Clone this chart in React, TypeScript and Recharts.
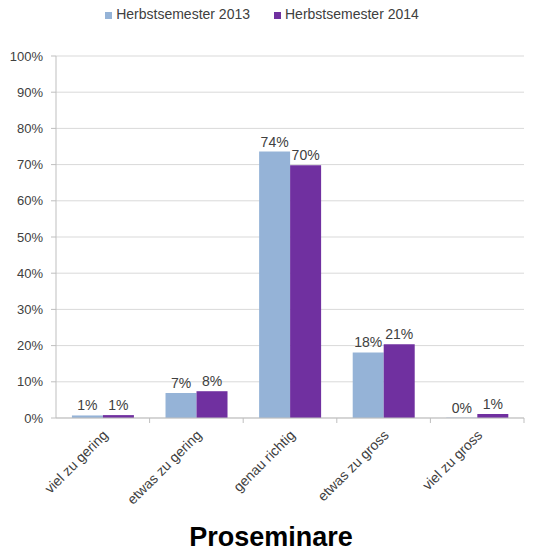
import { Bar, BarChart, CartesianGrid, LabelList, Legend, XAxis, YAxis } from "recharts"

// categories and values (percent)
const categories = ["viel zu gering", "etwas zu gering", "genau richtig", "etwas zu gross", "viel zu gross"]
const hs2013 = [0.7, 6.9, 73.6, 18.1, 0.1]
const hs2014 = [0.8, 7.4, 69.8, 20.4, 1.1]
const labels2013 = ["1%", "7%", "74%", "18%", "0%"]
const labels2014 = ["1%", "8%", "70%", "21%", "1%"]
const yTicks = [0, 10, 20, 30, 40, 50, 60, 70, 80, 90, 100]

const data = categories.map((name, i) => ({
  name,
  hs2013: hs2013[i],
  hs2014: hs2014[i],
  l2013: labels2013[i],
  l2014: labels2014[i],
}))

const W = 534
const H = 554
const X_H = 100
const M = { top: 40, right: 10, bottom: 136 - X_H, left: 0 }
const Y_W = 56
const bandW = (W - M.left - M.right - Y_W) / categories.length

const font = "'Liberation Sans', Arial, sans-serif"
const textColor = "#404040"

const XTick = (props: any) => {
  const { x, y, payload } = props
  return (
    <g>
      <line x1={x + bandW / 2} x2={x + bandW / 2} y1={y - 8} y2={y - 3} stroke="#bfbfbf" />
      <text
        x={x + 6}
        y={y + 10}
        transform={`rotate(-45, ${x + 6}, ${y + 10})`}
        textAnchor="end"
        fontSize={14}
        fontFamily={font}
        fill={textColor}
      >
        {payload.value}
      </text>
    </g>
  )
}

export default function App() {
  return (
    <div style={{ position: "absolute", left: 0, top: 0, width: W, height: H, background: "#fff" }}>
      <BarChart width={W} height={H} data={data} margin={M} barCategoryGap="17%" barGap={0}>
        <CartesianGrid vertical={false} stroke="#d9d9d9" />
        <XAxis
          dataKey="name"
          interval={0}
          stroke="#bfbfbf"
          tickLine={false}
          tick={<XTick />}
          height={X_H}
        />
        <YAxis
          width={Y_W}
          domain={[0, 100]}
          ticks={yTicks}
          interval={0}
          tickFormatter={(v) => `${v}%`}
          stroke="#bfbfbf"
          tickSize={5}
          tickMargin={8}
          tick={{ fontSize: 13, fontFamily: font, fill: textColor }}
        />
        <Legend
          verticalAlign="top"
          align="center"
          iconType="square"
          iconSize={7}
          wrapperStyle={{ top: 6, paddingLeft: 12, fontFamily: font, fontSize: 14 }}
          formatter={(value) => <span style={{ color: textColor, marginRight: 14 }}>{value}</span>}
        />
        <Bar dataKey="hs2013" name="Herbstsemester 2013" fill="#95b3d7" isAnimationActive={false}>
          <LabelList dataKey="l2013" position="top" fontSize={14} fontFamily={font} fill={textColor} />
        </Bar>
        <Bar dataKey="hs2014" name="Herbstsemester 2014" fill="#7030a0" isAnimationActive={false}>
          <LabelList dataKey="l2014" position="top" fontSize={14} fontFamily={font} fill={textColor} />
        </Bar>
      </BarChart>
      <div
        style={{
          position: "absolute",
          left: 4,
          width: W,
          top: 522,
          textAlign: "center",
          fontFamily: font,
          fontWeight: "bold",
          fontSize: 27,
          color: "#000",
        }}
      >
        Proseminare
      </div>
    </div>
  )
}
